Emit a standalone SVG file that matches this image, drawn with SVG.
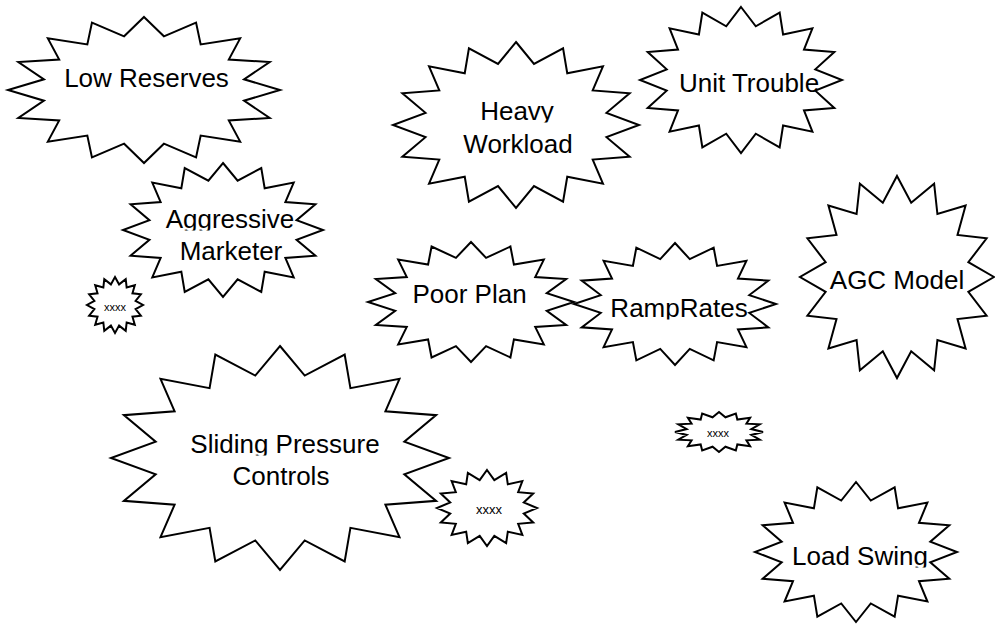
<svg xmlns="http://www.w3.org/2000/svg" xmlns:xlink="http://www.w3.org/1999/xlink" width="995" height="624" viewBox="0 0 995 624">
<style>
.star{fill:#fff;stroke:#000;stroke-width:2;stroke-linejoin:miter;vector-effect:non-scaling-stroke}
.lbl{font-family:"Liberation Sans",Arial,sans-serif;font-size:26px;fill:#000;text-anchor:middle}
.cut{clip-path:url(#desc)}
.sm{font-family:"Liberation Sans",Arial,sans-serif;fill:#000;text-anchor:middle}
</style>
<defs>
<polygon id="star" class="star" points="0,-100 14.63,-73.56 38.27,-92.39 41.67,-62.36 70.71,-70.71 62.36,-41.67 92.39,-38.27 73.56,-14.63 100,0 73.56,14.63 92.39,38.27 62.36,41.67 70.71,70.71 41.67,62.36 38.27,92.39 14.63,73.56 0,100 -14.63,73.56 -38.27,92.39 -41.67,62.36 -70.71,70.71 -62.36,41.67 -92.39,38.27 -73.56,14.63 -100,0 -73.56,-14.63 -92.39,-38.27 -62.36,-41.67 -70.71,-70.71 -41.67,-62.36 -38.27,-92.39 -14.63,-73.56"/>
<clipPath id="desc" clipPathUnits="objectBoundingBox"><rect x="-0.1" y="-0.1" width="1.2" height="0.98"/></clipPath>
</defs>
<g id="connectors"/>
<g id="low-reserves">
<use href="#star" transform="translate(144 90) scale(1.36 0.73)"/>
<text class="lbl" x="146.5" y="87">Low Reserves</text>
</g>
<g id="heavy-workload">
<use href="#star" transform="translate(516 125) scale(1.23 0.83)"/>
<text class="lbl cut" x="517" y="120">Heavy</text>
<text class="lbl" x="518" y="153">Workload</text>
</g>
<g id="unit-trouble">
<use href="#star" transform="translate(741 80) scale(1.01 0.73)"/>
<text class="lbl" x="749" y="92">Unit Trouble</text>
</g>
<g id="aggressive-marketer">
<use href="#star" transform="translate(223 230) scale(1.00 0.67)"/>
<text class="lbl cut" x="230" y="228">Aggressive</text>
<text class="lbl" x="231" y="260">Marketer</text>
</g>
<g id="xxxx-1">
<use href="#star" transform="translate(115 305) scale(0.28 0.28)"/>
<text class="sm" x="115" y="311" font-size="11">xxxx</text>
</g>
<g id="poor-plan">
<use href="#star" transform="translate(471 302) scale(1.03 0.60)"/>
<text class="lbl" x="469.5" y="303">Poor Plan</text>
</g>
<g id="ramp-rates">
<use href="#star" transform="translate(675 304) scale(1.01 0.61)"/>
<text class="lbl cut" x="679" y="317">RampRates</text>
</g>
<g id="agc-model">
<use href="#star" transform="translate(897 277) scale(0.97 1.01)"/>
<text class="lbl" x="897" y="289">AGC Model</text>
</g>
<g id="sliding-pressure-controls">
<use href="#star" transform="translate(280 458) scale(1.69 1.12)"/>
<text class="lbl cut" x="285" y="453">Sliding Pressure</text>
<text class="lbl" x="281" y="485">Controls</text>
</g>
<g id="xxxx-2">
<use href="#star" transform="translate(487 508) scale(0.50 0.38)"/>
<text class="sm" x="489" y="514" font-size="13">xxxx</text>
</g>
<g id="xxxx-3">
<use href="#star" transform="translate(719 432) scale(0.44 0.20)"/>
<text class="sm" x="718" y="437" font-size="11">xxxx</text>
</g>
<g id="load-swing">
<use href="#star" transform="translate(856 552) scale(1.01 0.70)"/>
<text class="lbl cut" x="860" y="565">Load Swing</text>
</g>
</svg>
